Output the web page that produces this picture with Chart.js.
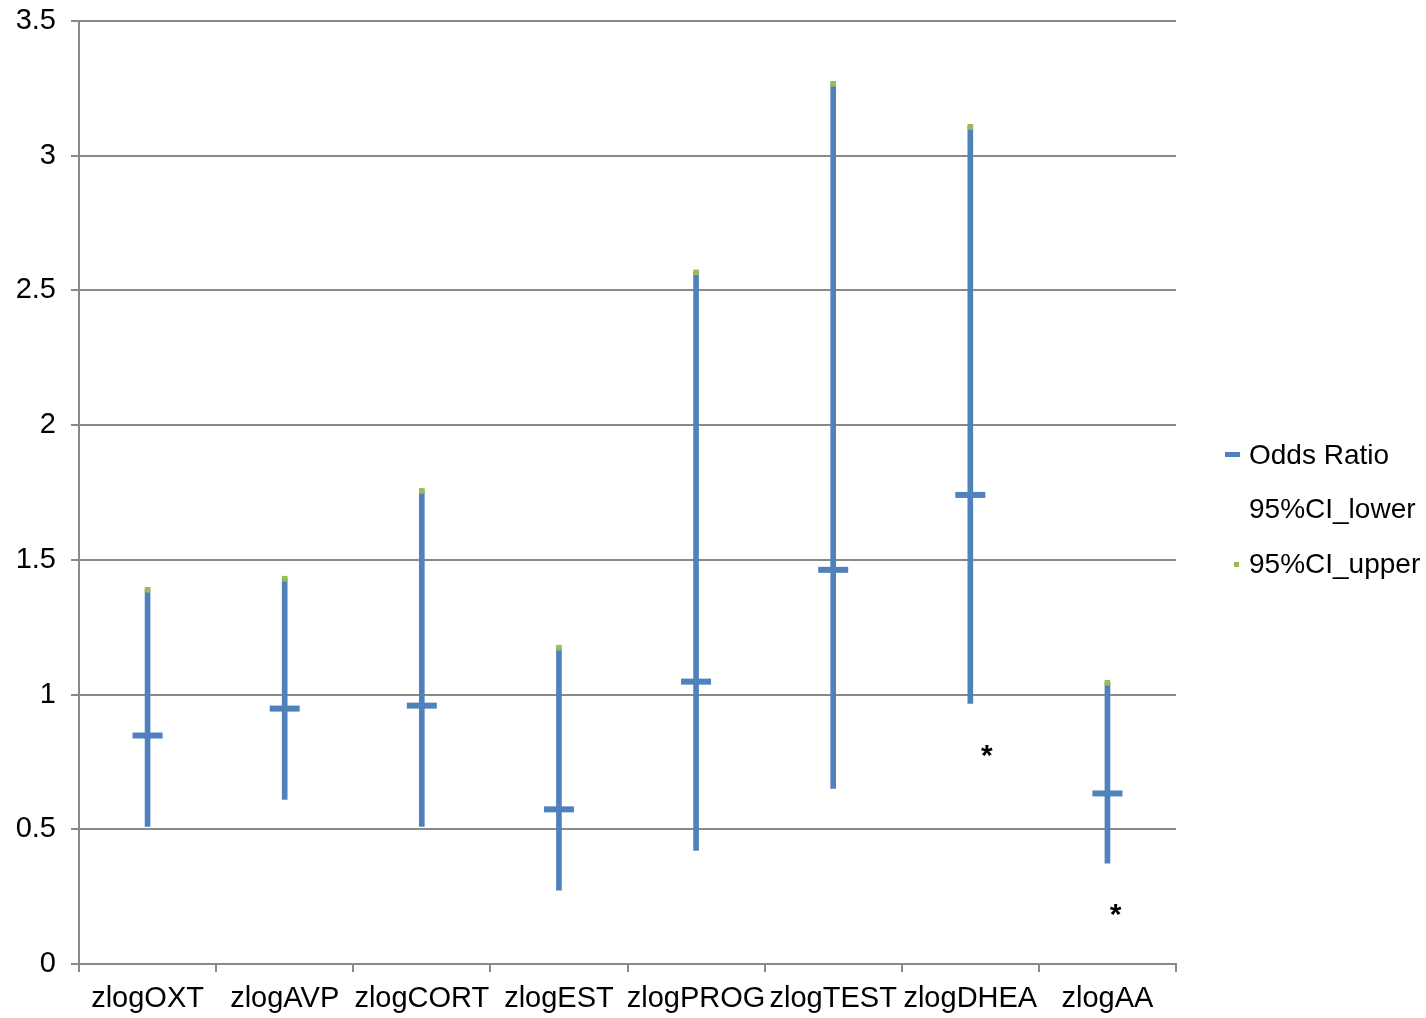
<!DOCTYPE html>
<html>
<head>
<meta charset="utf-8">
<title>Odds Ratio chart</title>
<script src="https://cdn.jsdelivr.net/npm/chart.js@4"></script>
<style>
  html, body { margin: 0; padding: 0; background: #fff; }
  canvas { display: block; }
</style>
</head>
<body>
<canvas id="orChart" width="1426" height="1018"></canvas>
<script>
// Data
const categories = ['zlogOXT', 'zlogAVP', 'zlogCORT', 'zlogEST', 'zlogPROG', 'zlogTEST', 'zlogDHEA', 'zlogAA'];
const oddsRatio = [0.848, 0.948, 0.959, 0.574, 1.048, 1.463, 1.741, 0.633];
const ciLower   = [0.511, 0.611, 0.511, 0.274, 0.422, 0.652, 0.967, 0.374];
const ciUpper   = [1.389, 1.430, 1.756, 1.174, 2.567, 3.267, 3.107, 1.044];

// significance marks: category index (with small shift) and value
const starPos = [6.12, 7.06];
const starVal = [0.79, 0.2];

const blue = '#4F81BD';
const green = '#9BBB59';
const axisGrey = '#898989';
const fontFamily = '"Liberation Sans", Arial, sans-serif';
const font = { family: fontFamily, size: 29 };

// Draws stars and the legend on the right
const extrasPlugin = {
  id: 'extras',
  afterDraw(chart) {
    const { ctx, chartArea, scales } = chart;
    ctx.save();
    ctx.fillStyle = '#000';
    ctx.font = 'bold 30px ' + fontFamily;
    ctx.textAlign = 'center';
    ctx.textBaseline = 'middle';
    starPos.forEach((p, i) => {
      ctx.fillText('*', scales.x.getPixelForValue(p), scales.y.getPixelForValue(starVal[i]) + 6);
    });

    // legend
    const lx = chartArea.right + 73;
    const rows = [
      { text: 'Odds Ratio', y: 455, mark: 'dash' },
      { text: '95%CI_lower', y: 509, mark: 'none' },
      { text: '95%CI_upper', y: 564, mark: 'dot' }
    ];
    ctx.font = '28px ' + fontFamily;
    ctx.textAlign = 'left';
    rows.forEach(r => {
      if (r.mark === 'dash') {
        ctx.fillStyle = blue;
        ctx.fillRect(lx - 24, r.y - 3, 15, 5);
      } else if (r.mark === 'dot') {
        ctx.fillStyle = green;
        ctx.fillRect(lx - 15, r.y - 2, 5, 5);
      }
      ctx.fillStyle = '#000';
      ctx.fillText(r.text, lx, r.y + 1);
    });
    ctx.restore();
  }
};

new Chart(document.getElementById('orChart').getContext('2d'), {
  type: 'bar',
  data: {
    labels: categories,
    datasets: [
      {
        label: '95%CI_upper',
        type: 'line',
        data: ciUpper,
        showLine: false,
        pointStyle: 'rect',
        pointRadius: 4,
        pointBackgroundColor: green,
        pointBorderColor: green,
        pointBorderWidth: 0,
        order: 1
      },
      {
        label: 'Odds Ratio',
        type: 'line',
        data: oddsRatio,
        showLine: false,
        pointStyle: 'line',
        pointRadius: 15,
        pointBorderWidth: 6,
        pointBorderColor: blue,
        order: 2
      },
      {
        label: '95%CI_lower',
        type: 'line',
        data: ciLower,
        showLine: false,
        pointRadius: 0,
        order: 3
      },
      {
        label: 'range',
        data: ciLower.map((lo, i) => [lo, ciUpper[i]]),
        backgroundColor: blue,
        barThickness: 5,
        order: 4
      }
    ]
  },
  options: {
    responsive: false,
    animation: false,
    events: [],
    layout: { padding: { top: 19, right: 250, left: 0, bottom: 0 } },
    plugins: {
      legend: { display: false },
      tooltip: { enabled: false }
    },
    scales: {
      x: {
        offset: true,
        grid: {
          offset: true,
          drawOnChartArea: false,
          drawTicks: true,
          tickLength: 8,
          color: axisGrey,
          lineWidth: 2
        },
        border: { color: axisGrey, width: 2 },
        ticks: { color: '#000', font, padding: 10, maxRotation: 0, autoSkip: false },
        afterFit(scale) { scale.height = 54; }
      },
      y: {
        min: 0,
        max: 3.5,
        ticks: {
          stepSize: 0.5,
          color: '#000',
          font,
          padding: 15,
          callback: v => String(v)
        },
        grid: { color: axisGrey, lineWidth: 2, tickLength: 8 },
        border: { color: axisGrey, width: 2 },
        afterFit(scale) {
          scale.width = 79;
          scale.paddingTop = 0;
          scale.paddingBottom = 0;
        }
      }
    }
  },
  plugins: [extrasPlugin]
});
</script>
</body>
</html>
